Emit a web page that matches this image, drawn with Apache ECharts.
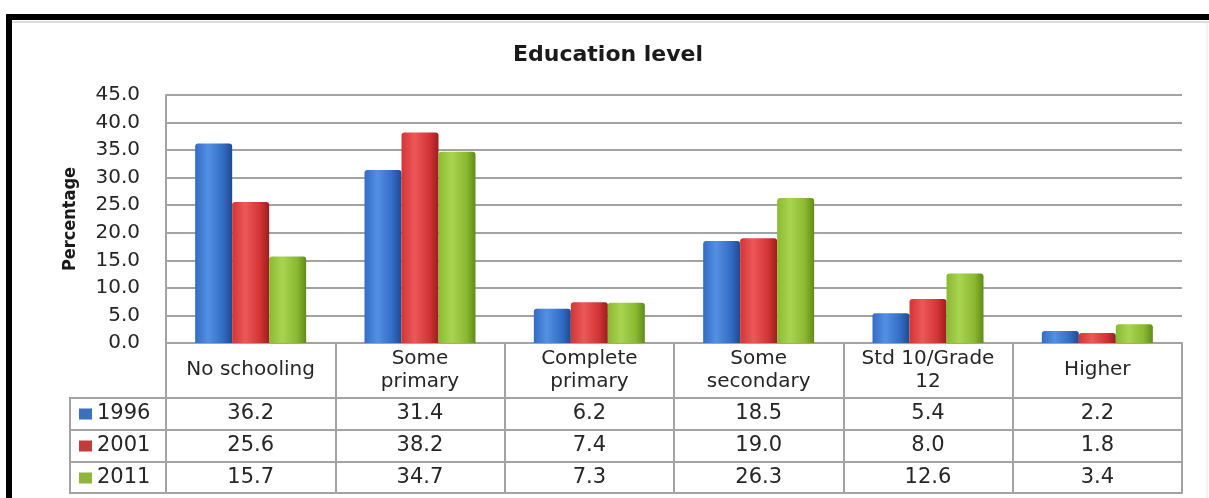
<!DOCTYPE html>
<html>
<head>
<meta charset="utf-8">
<script src="https://cdn.jsdelivr.net/npm/echarts@6/dist/echarts.min.js"></script>
<style>
html,body{margin:0;padding:0;background:#fff;}
#chart{width:1209px;height:498px;}
</style>
</head>
<body>
<div id="chart"></div>
<script>
var categories = ['No schooling', 'Some\nprimary', 'Complete\nprimary', 'Some\nsecondary', 'Std 10/Grade\n12', 'Higher'];
var years = ['1996', '2001', '2011'];
var values1996 = [36.2, 31.4, 6.2, 18.5, 5.4, 2.2];
var values2001 = [25.6, 38.2, 7.4, 19.0, 8.0, 1.8];
var values2011 = [15.7, 34.7, 7.3, 26.3, 12.6, 3.4];
var yTicks = [0, 45, 5]; // min, max, interval

var seriesValues = [values1996, values2001, values2011];
var gridCol = '#a3a3a3';
var txtFont = 'DejaVu Sans';

function grad(c1, c2, c3) {
  return new echarts.graphic.LinearGradient(0, 0, 1, 0, [
    {offset: 0, color: c1}, {offset: 0.35, color: c2}, {offset: 0.75, color: c1}, {offset: 1, color: c3}
  ]);
}
var barColors = [
  grad('#336cc6', '#5490e2', '#1f4a8c'),
  grad('#d43434', '#ec5858', '#9c1e1e'),
  grad('#8aba30', '#a9d450', '#628a1a')
];
var legendColors = ['#3b6fbf', '#c63a3a', '#8fb53a'];

var chart = echarts.init(document.getElementById('chart'));

var xAxes = [{
  type: 'category',
  data: categories,
  gridIndex: 0,
  position: 'bottom',
  axisLine: {show: true, lineStyle: {color: gridCol, width: 2}},
  axisTick: {show: true, length: 150, lineStyle: {color: gridCol, width: 2}},
  axisLabel: {interval: 0, margin: 27, verticalAlign: 'middle', fontFamily: txtFont, fontSize: 20, lineHeight: 23, color: '#262626'}
}];
var offsets = [55, 87, 119];
seriesValues.forEach(function (vals, k) {
  xAxes.push({
    type: 'category',
    data: vals.map(function (v) { return v.toFixed(1); }),
    gridIndex: 0,
    position: 'bottom',
    offset: offsets[k],
    axisLine: {show: true, lineStyle: {color: gridCol, width: 2}},
    axisTick: {show: false},
    axisLabel: {interval: 0, margin: 16, verticalAlign: 'middle', fontFamily: txtFont, fontSize: 21, color: '#262626'}
  });
});
xAxes.push({
  type: 'category',
  data: categories,
  gridIndex: 0,
  position: 'bottom',
  offset: 150,
  axisLine: {show: true, lineStyle: {color: gridCol, width: 2}},
  axisTick: {show: false},
  axisLabel: {show: false}
});

var option = {
  animation: false,
  backgroundColor: '#fff',
  title: {
    text: 'Education level',
    left: 513,
    top: 44,
    padding: 0,
    textStyle: {fontFamily: 'DejaVu Sans', fontWeight: 'bold', fontSize: 22, color: '#1a1a1a'}
  },
  legend: {
    orient: 'vertical',
    left: 79,
    top: 403,
    height: 120,
    padding: 0,
    itemWidth: 13,
    itemHeight: 11,
    itemGap: 10,
    icon: 'rect',
    data: years.map(function (y, i) { return {name: y, itemStyle: {color: legendColors[i]}}; }),
    textStyle: {fontFamily: txtFont, fontSize: 21, lineHeight: 22, height: 22, color: '#262626'},
    selectedMode: false
  },
  grid: {left: 166, right: 27, top: 95, bottom: 155, containLabel: false},
  xAxis: xAxes,
  yAxis: {
    type: 'value',
    min: yTicks[0],
    max: yTicks[1],
    interval: yTicks[2],
    name: 'Percentage',
    nameLocation: 'middle',
    nameGap: 87,
    nameTextStyle: {fontFamily: '"DejaVu Sans Condensed", "Liberation Sans Narrow", "Roboto Condensed", "DejaVu Sans", sans-serif', fontWeight: 'bold', fontSize: 18, color: '#1a1a1a'},
    axisLine: {show: true, lineStyle: {color: gridCol, width: 2}},
    axisTick: {show: false},
    splitLine: {lineStyle: {color: gridCol, width: 2}},
    axisLabel: {margin: 26, fontFamily: txtFont, fontSize: 20, color: '#262626', formatter: function (v) { return v.toFixed(1); }}
  },
  series: seriesValues.map(function (vals, i) {
    return {
      name: years[i],
      type: 'bar',
      xAxisIndex: 0,
      data: vals,
      barWidth: 37,
      barGap: '0%',
      itemStyle: {color: barColors[i], borderRadius: [3, 3, 0, 0]}
    };
  }),
  graphic: [
    {type: 'rect', shape: {x: 6, y: 14, width: 1203, height: 6}, style: {fill: '#000'}},
    {type: 'rect', shape: {x: 6, y: 14, width: 6, height: 484}, style: {fill: '#000'}},
    {type: 'line', shape: {x1: 12, y1: 22, x2: 1209, y2: 22}, style: {stroke: '#d0d0d0', lineWidth: 1.5}},
    {type: 'line', shape: {x1: 1207, y1: 22, x2: 1207, y2: 498}, style: {stroke: '#e6e6e6', lineWidth: 1}},
    {type: 'line', shape: {x1: 70, y1: 398, x2: 166, y2: 398}, style: {stroke: gridCol, lineWidth: 2}},
    {type: 'line', shape: {x1: 70, y1: 430, x2: 166, y2: 430}, style: {stroke: gridCol, lineWidth: 2}},
    {type: 'line', shape: {x1: 70, y1: 462, x2: 166, y2: 462}, style: {stroke: gridCol, lineWidth: 2}},
    {type: 'line', shape: {x1: 70, y1: 493, x2: 166, y2: 493}, style: {stroke: gridCol, lineWidth: 2}},
    {type: 'line', shape: {x1: 70, y1: 397, x2: 70, y2: 494}, style: {stroke: gridCol, lineWidth: 2}}
  ]
};
chart.setOption(option);
</script>
</body>
</html>
